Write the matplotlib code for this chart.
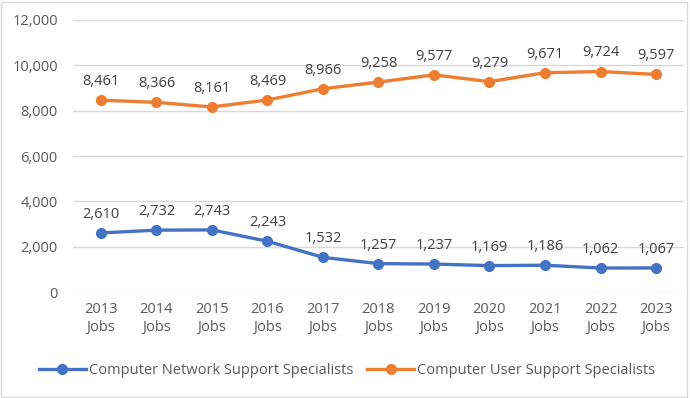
import matplotlib

matplotlib.use("Agg")
import matplotlib.pyplot as plt
from matplotlib.patches import Rectangle

plt.rcParams["font.family"] = ["Open Sans", "DejaVu Sans"]

years = ["2013", "2014", "2015", "2016", "2017", "2018", "2019", "2020", "2021", "2022", "2023"]
network = [2610, 2732, 2743, 2243, 1532, 1257, 1237, 1169, 1186, 1062, 1067]
user = [8461, 8366, 8161, 8469, 8966, 9258, 9577, 9279, 9671, 9724, 9597]
yticks = [0, 2000, 4000, 6000, 8000, 10000, 12000]

txt = "#595959"
fig = plt.figure(figsize=(6.9, 3.98), dpi=100)
ax = fig.add_axes([0.106, 0.266, 0.885, 0.684])

x = list(range(len(years)))
series = [
    (network, "#4472C4", "Computer Network Support Specialists"),
    (user, "#ED7D31", "Computer User Support Specialists"),
]
for vals, col, name in series:
    ax.plot(x, vals, color=col, lw=2.4, marker="o", ms=7, label=name, zorder=3)
    for xi, v in zip(x, vals):
        ax.annotate(f"{v:,}", (xi, v), xytext=(0, 8), textcoords="offset points",
                    ha="center", va="bottom", fontsize=10.5, color="#404040")

ax.set_xlim(-0.5, len(years) - 0.5)
ax.set_ylim(0, 12000)
ax.set_yticks(yticks)
ax.set_yticklabels([f"{t:,}" for t in yticks])
ax.set_xticks(x)
ax.set_xticklabels([f"{y}\nJobs" for y in years], linespacing=1.25)
ax.tick_params(length=0, labelsize=10.5, labelcolor=txt)
ax.tick_params(axis="x", pad=7)
ax.tick_params(axis="y", pad=11)
ax.grid(axis="y", color="#D9D9D9", lw=1)
ax.set_axisbelow(True)
for s in ax.spines.values():
    s.set_visible(False)

leg = fig.legend(loc="center", bbox_to_anchor=(0.503, 0.07), ncol=2, frameon=False,
                 fontsize=10.5, labelcolor=txt, handlelength=3.2, handletextpad=0.2,
                 columnspacing=1.0)

fig.patches.append(Rectangle((0.002, 0.003), 0.994, 0.993, transform=fig.transFigure,
                             fill=False, edgecolor="#D9D9D9", lw=1))

fig.savefig("out.png", dpi=100)
